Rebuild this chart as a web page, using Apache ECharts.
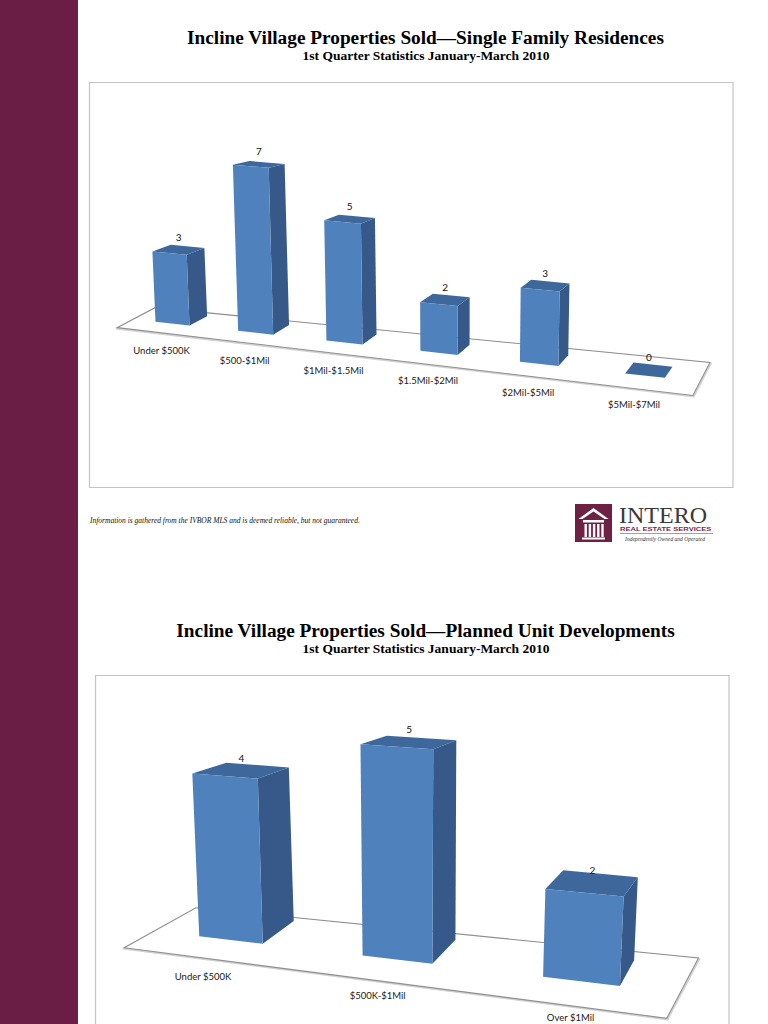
<!DOCTYPE html>
<html><head><meta charset="utf-8">
<script src="https://cdn.jsdelivr.net/npm/echarts@6.0.0/dist/echarts.min.js"></script>
<style>html,body{margin:0;padding:0;background:#fff}#c{width:768px;height:1024px}</style>
</head><body><div id="c"></div>
<script>
// ---- data ----
var sfrCategories = ['Under $500K', '$500-$1Mil', '$1Mil-$1.5Mil', '$1.5Mil-$2Mil', '$2Mil-$5Mil', '$5Mil-$7Mil'];
var sfrValues = [3, 7, 5, 2, 3, 0];
var pudCategories = ['Under $500K', '$500K-$1Mil', 'Over $1Mil'];
var pudValues = [4, 5, 2];
var sfrTitle = 'Incline Village Properties Sold\u2014Single Family Residences';
var pudTitle = 'Incline Village Properties Sold\u2014Planned Unit Developments';
var subTitle = '1st Quarter Statistics January-March 2010';
var noteText = 'Information is gathered from the IVBOR MLS and is deemed reliable, but not guaranteed.';

// ---- perspective look (styling only) ----
var P1 = {n: 6, a: 0.85, slope: 0.11, gk: 0.07, w0: 34, wk: 0.17, lean: 0.00015, vx: 450,
  dx0: 18, dx1: -10, dc: 0.035, yh: 60,
  fx0: 36.5, fx1: -17.5, fy0: -20.9, fy1: -10.83, ff: 0.42,
  lox0: -11, lox1: 0, loy0: 27, loy1: 1.5, labelUp: 13};
var P2 = {n: 3, a: 0.9, slope: 0.118, gk: 0.08, w0: 63.5, wk: 0.21, lean: 0.0002, vx: 412,
  dx0: 32.5, dx1: -16.5, dc: 0.07, yh: 620,
  fx0: 65.86, fx1: -26.67, fy0: -42.96, fy1: -13.53, ff: 0.42,
  lox0: -28, lox1: 17, loy0: 36, loy1: 0, labelUp: 13};

var FRONT = '#4f81bd', TOP = '#3e679b', SIDE = '#36598a';
var MAROON = '#6b1e45';

function geom(P, api) {
  var c0 = api.coord([0, 0]), cN = api.coord([P.n - 1, 0]);
  var span = cN[0] - c0[0];
  return {
    c0: c0, span: span,
    warpT: function (t) { return c0[0] + t * (P.a + (1 - P.a) * t) * span; },
    warpX: function (fx) { var t = (fx - c0[0]) / span; return c0[0] + t * (P.a + (1 - P.a) * t) * span; },
    tp: function (X) { return (X - c0[0]) / span; },
    baseY: function (X) { return c0[1] + P.slope * (X - c0[0]); },
    pt: function (X, hpx, m) {
      var tp = (X - c0[0]) / span;
      var H = hpx * (1 + P.gk * tp);
      var x = X + P.lean * (X - P.vx) * H;
      var y = c0[1] + P.slope * (X - c0[0]) - H;
      if (m) {
        var dx = P.dx0 + P.dx1 * tp;
        var dy = -P.dc * (y - P.yh);
        x += m * dx; y += m * dy;
      }
      return [x, y];
    }
  };
}

function makeFloor(P) {
  return function (params, api) {
    var g = geom(P, api);
    function edge(u) {
      var t = u / (P.n - 1);
      var X = g.warpT(t), Y = g.baseY(X), tp = g.tp(X);
      var fx = P.fx0 + P.fx1 * tp, fy = P.fy0 + P.fy1 * tp;
      return {front: [X - P.ff * fx, Y - P.ff * fy], back: [X + (1 - P.ff) * fx, Y + (1 - P.ff) * fy]};
    }
    var l = edge(-0.5), r = edge(P.n - 0.5);
    var pts = [l.front, r.front, r.back, l.back];
    return {type: 'group', children: [
      {type: 'polygon', shape: {points: pts.map(function (p) { return [p[0] + 0.8, p[1] + 1]; })},
        style: {fill: 'none', stroke: '#d2d2d2', lineWidth: 2}},
      {type: 'polygon', shape: {points: pts}, style: {fill: '#ffffff', stroke: '#8f8f8f', lineWidth: 1.1}}
    ]};
  };
}

function makeBars(P, cats) {
  return function (params, api) {
    var i = api.value(0), v = api.value(1);
    var g = geom(P, api);
    var base = api.coord([i, 0]), topc = api.coord([i, v]);
    var hpx = base[1] - topc[1];
    var cx = g.warpX(base[0]);
    var tp = g.tp(cx);
    var w = P.w0 * (1 + P.wk * tp);
    var L = cx - w / 2, R = cx + w / 2;
    var fl0 = g.pt(L, 0), fr0 = g.pt(R, 0), frh = g.pt(R, hpx), flh = g.pt(L, hpx);
    var br0 = g.pt(R, 0, 1), brh = g.pt(R, hpx, 1), blh = g.pt(L, hpx, 1);
    var tcx = (flh[0] + frh[0] + brh[0] + blh[0]) / 4;
    var tcy = (flh[1] + frh[1] + brh[1] + blh[1]) / 4;
    var pb = [cx, g.baseY(cx)];
    var children = [
      {type: 'polygon', shape: {points: [fr0, frh, brh, br0]}, style: {fill: SIDE}},
      {type: 'polygon', shape: {points: [flh, frh, brh, blh]}, style: {fill: TOP}},
      {type: 'polygon', shape: {points: [fl0, fr0, frh, flh]}, style: {fill: FRONT}},
      {type: 'text', x: tcx, y: tcy - P.labelUp,
        style: {text: String(v), font: '10px Lato', fill: '#111', align: 'center', verticalAlign: 'middle', textAlign: 'center', textVerticalAlign: 'middle'}},
      {type: 'text', x: pb[0] + P.lox0 + P.lox1 * tp, y: pb[1] + P.loy0 + P.loy1 * tp,
        style: {text: cats[i], font: '9.5px Lato', fill: '#1a1a1a', align: 'center', verticalAlign: 'middle', textAlign: 'center', textVerticalAlign: 'middle'}}
    ];
    return {type: 'group', children: children};
  };
}

function txt(x, y, s, font, fill, align, extra) {
  var o = {type: 'text', x: x, y: y, z: 5,
    style: {text: s, font: font, fill: fill || '#000', align: align || 'center', textAlign: align || 'center', verticalAlign: 'middle', textVerticalAlign: 'middle'}};
  if (extra) for (var k in extra) o[k] = extra[k];
  return o;
}

var logo = [
  {type: 'rect', z: 5, shape: {x: 575, y: 504, width: 37, height: 38}, style: {fill: '#6e2145'}},
  {type: 'polygon', z: 6, shape: {points: [[578.5, 519], [593.5, 508], [608.5, 519], [604.5, 519], [593.5, 511.5], [582.5, 519]]}, style: {fill: '#ffffff'}},
  {type: 'rect', z: 6, shape: {x: 583, y: 520, width: 21, height: 2.5}, style: {fill: '#ffffff'}},
  {type: 'rect', z: 6, shape: {x: 584.5, y: 524, width: 2.4, height: 13}, style: {fill: '#ffffff'}},
  {type: 'rect', z: 6, shape: {x: 588.7, y: 524, width: 2.4, height: 13}, style: {fill: '#ffffff'}},
  {type: 'rect', z: 6, shape: {x: 592.9, y: 524, width: 2.4, height: 13}, style: {fill: '#ffffff'}},
  {type: 'rect', z: 6, shape: {x: 597.1, y: 524, width: 2.4, height: 13}, style: {fill: '#ffffff'}},
  {type: 'rect', z: 6, shape: {x: 601.3, y: 524, width: 2.4, height: 13}, style: {fill: '#ffffff'}},
  {type: 'rect', z: 6, shape: {x: 582, y: 537.5, width: 23, height: 2}, style: {fill: '#ffffff'}},
  txt(619, 514.5, 'INTERO', '24px "Liberation Serif"', '#3a3a3a', 'left'),
  txt(620, 528.5, 'REAL ESTATE SERVICES', 'bold 6px "Liberation Sans"', '#7d2a4d', 'left', {scaleX: 1.26}),
  {type: 'line', z: 5, shape: {x1: 620, y1: 533.5, x2: 713, y2: 533.5}, style: {stroke: '#8a8a8a', lineWidth: 0.8}},
  txt(665, 538.5, 'Independently Owned and Operated', 'italic 5.5px "Liberation Serif"', '#333')
];

var graphics = [
  {type: 'rect', z: 0, shape: {x: 0, y: 0, width: 78, height: 1024}, style: {fill: MAROON}},
  {type: 'rect', z: 0, shape: {x: 89.5, y: 82.5, width: 643.5, height: 405}, style: {fill: 'none', stroke: '#c4c4c4', lineWidth: 1.2}},
  {type: 'rect', z: 0, shape: {x: 95.5, y: 675.5, width: 633.5, height: 420}, style: {fill: 'none', stroke: '#c4c4c4', lineWidth: 1.2}},
  txt(425.5, 37, sfrTitle, 'bold 19.3px "Liberation Serif"', '#000'),
  txt(426, 55, subTitle, 'bold 13.5px "Liberation Serif"', '#000'),
  txt(425.5, 630, pudTitle, 'bold 19.3px "Liberation Serif"', '#000'),
  txt(426, 648, subTitle, 'bold 13.5px "Liberation Serif"', '#000'),
  txt(90, 520, noteText, 'italic 7.5px "Liberation Serif"', '#111', 'left')
].concat(logo);

var chart = echarts.init(document.getElementById('c'), null, {renderer: 'svg', width: 768, height: 1024});
chart.setOption({
  animation: false,
  backgroundColor: '#ffffff',
  graphic: {elements: graphics},
  grid: [
    {left: 125.25, top: 135.6, width: 567, height: 188, containLabel: false, outerBoundsMode: 'none'},
    {left: 143.375, top: 694, width: 525.75, height: 246, containLabel: false, outerBoundsMode: 'none'}
  ],
  xAxis: [
    {type: 'category', gridIndex: 0, data: sfrCategories, show: false},
    {type: 'category', gridIndex: 1, data: pudCategories, show: false}
  ],
  yAxis: [
    {type: 'value', gridIndex: 0, min: 0, max: 8, show: false},
    {type: 'value', gridIndex: 1, min: 0, max: 6, show: false}
  ],
  series: [
    {type: 'custom', name: 'floor1', xAxisIndex: 0, yAxisIndex: 0, z: 1, silent: true,
      data: [[0, 0]], renderItem: makeFloor(P1)},
    {type: 'custom', name: 'Single Family Residences', xAxisIndex: 0, yAxisIndex: 0, z: 2, silent: true,
      data: sfrValues.map(function (v, i) { return [i, v]; }), renderItem: makeBars(P1, sfrCategories)},
    {type: 'custom', name: 'floor2', xAxisIndex: 1, yAxisIndex: 1, z: 1, silent: true,
      data: [[0, 0]], renderItem: makeFloor(P2)},
    {type: 'custom', name: 'Planned Unit Developments', xAxisIndex: 1, yAxisIndex: 1, z: 2, silent: true,
      data: pudValues.map(function (v, i) { return [i, v]; }), renderItem: makeBars(P2, pudCategories)}
  ]
});
</script></body></html>
